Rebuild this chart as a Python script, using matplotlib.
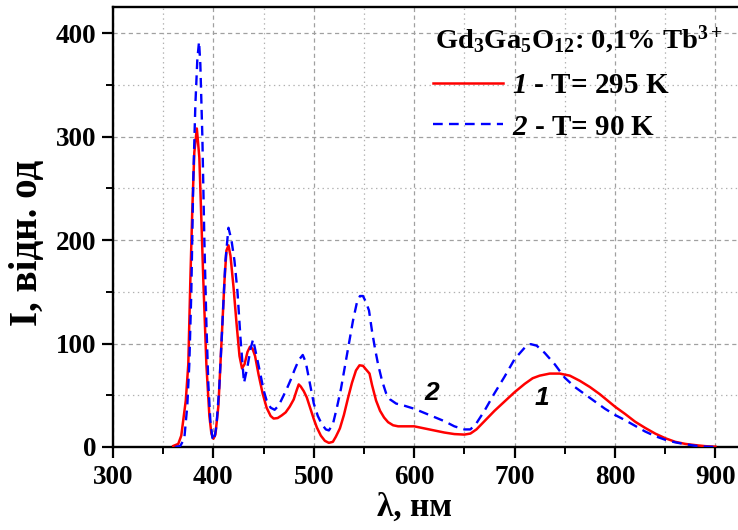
import matplotlib
matplotlib.use("Agg")
import matplotlib.pyplot as plt
from matplotlib.ticker import MultipleLocator

# Emission spectrum of Gd3Ga5O12:0.1% Tb3+ at two temperatures
wl_295 = [360, 365, 368, 372.5, 375, 377, 379, 381, 383.5, 386, 388, 390, 393, 396,
          398, 400, 402, 405, 408, 411, 413, 415, 417, 420, 423, 426, 428.5, 431,
          434, 436.5, 439, 441.5, 445, 449, 453, 457, 460, 464, 468, 472, 476, 480,
          483, 485, 487, 490, 493, 497, 500, 503, 507, 511, 515, 519, 522, 526, 530,
          534, 538, 542, 545.5, 549, 552, 555.5, 558, 562, 566, 570, 574, 579, 584,
          590, 600, 610, 620, 630, 640, 650, 656, 662, 670, 680, 690, 700, 710, 718,
          725, 735, 745, 755, 765, 775, 785, 795, 800, 810, 820, 830, 840, 850, 860,
          870, 880, 890, 900]
int_295 = [1, 3, 11, 45, 80, 160, 230, 285, 308, 280, 220, 160, 80, 30,
           13, 8, 12, 40, 100, 160, 190, 195, 185, 155, 120, 88, 76, 80,
           92, 97, 95, 88, 70, 52, 38, 30, 27.5, 28, 30.5, 33.5, 39, 46,
           55, 60.5, 58.5, 54, 48, 36, 27, 19, 11, 6, 4, 5, 10, 18, 31,
           47, 62, 74, 79, 78.5, 75, 71, 60, 45, 35, 28.5, 24, 21, 20,
           20, 20, 18, 16, 14, 12.5, 12, 13, 17, 25, 35, 44, 53, 61, 66.5,
           69, 71, 71, 69, 64, 58, 51, 43, 39, 32, 24.5, 18.5, 13, 8.5, 5,
           3, 1.8, 0.8, 0.3]

wl_90 = [362, 367, 371, 374, 376, 378, 380, 382, 384, 385.7, 387, 389, 391, 393,
         395, 397, 399, 400.5, 403, 406, 409, 412, 415, 418, 421, 424, 427, 430.5,
         434, 437, 439.5, 443, 446.5, 450, 453, 457, 461, 465, 469, 473, 477, 481,
         485, 489, 492, 496, 500, 504, 508, 512, 515, 519, 523, 527, 531, 535, 539,
         543, 546, 549, 552, 555, 558, 561, 564, 568, 572, 576, 582, 590, 600, 610,
         620, 630, 640, 650, 656, 662, 670, 680, 690, 700, 710, 716, 722, 730, 740,
         750, 760, 770, 780, 790, 800, 810, 820, 830, 840, 850, 860, 870, 880, 890,
         900]
int_90 = [0, 1, 8, 40, 80, 150, 260, 330, 375, 392, 370, 300, 200, 120,
          60, 25, 9, 6, 20, 60, 120, 180, 212, 200, 180, 150, 105, 62,
          78, 95, 104, 88, 72, 55, 45, 38, 36, 40, 48, 56, 65, 75,
          84, 89, 82, 62, 42, 30, 22, 17, 16, 22, 38, 56, 78, 100, 122,
          140, 146, 146, 140, 132, 112, 95, 80, 64, 52, 46, 42, 40, 37, 33,
          29, 25, 20, 17, 17, 23, 35, 52, 68, 85, 96, 99.5, 98, 91, 80,
          67, 58, 51, 44, 37, 31, 26, 20.5, 15, 10.5, 7, 4.5, 2.7, 1.2, 0.4,
          0]

title_text = r"Gd$_{3}$Ga$_{5}$O$_{12}$: 0,1% Tb$^{3+}$"
labels = [r"$\mathrm{1}$ - T= 295 K", r"$\mathrm{2}$ - T= 90 K"]
curve_tags = ["1", "2"]
tag_pos = [(727, 47), (617, 52)]

plt.rcParams["font.family"] = ["Liberation Serif", "DejaVu Serif"]
plt.rcParams["font.weight"] = "bold"
plt.rcParams["mathtext.fontset"] = "custom"
plt.rcParams["mathtext.default"] = "regular"
plt.rcParams["mathtext.rm"] = "Liberation Serif:bold:italic"
plt.rcParams["mathtext.it"] = "Liberation Serif:bold:italic"
plt.rcParams["mathtext.bf"] = "Liberation Serif:bold"
plt.rcParams["lines.scale_dashes"] = False

fig = plt.figure(figsize=(7.38, 5.30), dpi=100)
ax = fig.add_axes([113 / 738, 1 - 447 / 530, 632.5 / 738, 440 / 530])

ax.set_xlim(300, 930)
ax.set_ylim(0, 425.5)

ax.xaxis.set_major_locator(MultipleLocator(100))
ax.xaxis.set_minor_locator(MultipleLocator(50))
ax.yaxis.set_major_locator(MultipleLocator(100))
ax.yaxis.set_minor_locator(MultipleLocator(50))

ax.grid(which="major", color="#a0a0a0", linestyle=(0, (3, 2.5)), linewidth=0.9)
ax.grid(which="minor", color="#b0b0b0", linestyle=(0, (1, 2.5)), linewidth=0.9)
ax.set_axisbelow(True)

l1, = ax.plot(wl_295, int_295, color="#ff0000", linewidth=1.8, zorder=3)
l2, = ax.plot(wl_90, int_90, color="#0000ff", linewidth=1.7,
              dashes=(7, 4.5), zorder=4)

for tag, (tx, ty) in zip(curve_tags, tag_pos):
    ax.text(tx, ty, tag, family="Liberation Sans", style="italic",
            weight="bold", fontsize=19, ha="center", va="center")

for side in ["left", "bottom", "top"]:
    ax.spines[side].set_linewidth(1.7)
ax.spines["right"].set_visible(False)

ax.tick_params(which="major", direction="out", length=8, width=1.6,
               labelsize=19.5)
ax.tick_params(which="minor", direction="out", length=5, width=1.4)
ax.tick_params(axis="x", which="major", pad=5)
ax.tick_params(axis="y", which="major", pad=4)
for lab in ax.get_xticklabels() + ax.get_yticklabels():
    lab.set_fontweight("bold")

ax.set_xlabel("λ, нм", fontsize=24, fontweight="bold",
              ha="center", va="center")
ax.xaxis.set_label_coords(0.476, -0.137)
ax.set_ylabel("I, відн. од", fontsize=28, fontweight="bold",
              ha="center", va="center", rotation_mode="anchor")
ax.yaxis.set_label_coords(-0.135, 0.4636)

# Sample composition heading above the legend entries
ax.text((435 - 113) / 632.5, (447 - 48) / 440, title_text,
        transform=ax.transAxes, fontsize=20.5, fontweight="bold",
        ha="left", va="baseline")

leg = ax.legend([l1, l2], labels, loc="upper left",
                bbox_to_anchor=((433 - 113) / 632.5, (447 - 72) / 440),
                frameon=False, fontsize=21,
                handlelength=2.4, handletextpad=0.3, labelspacing=0.5,
                borderpad=0, borderaxespad=0)
for t in leg.get_texts():
    t.set_fontweight("bold")

fig.savefig("out.png", dpi=100)
